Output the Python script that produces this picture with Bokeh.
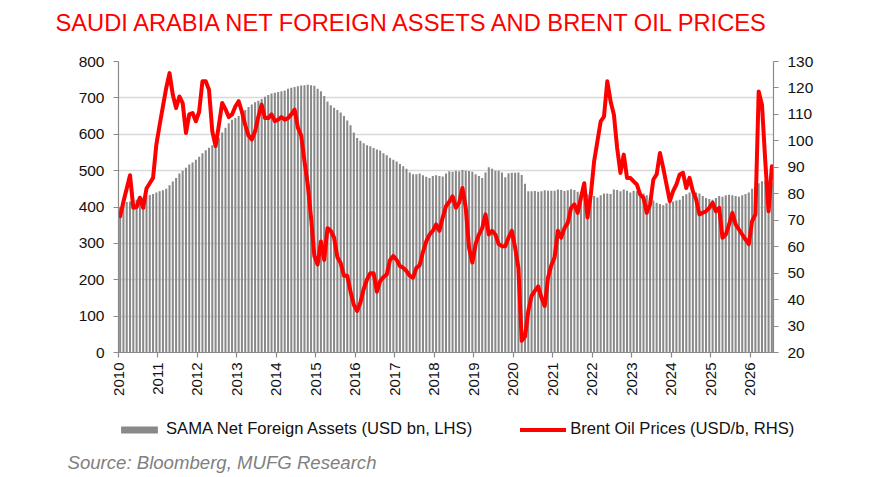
import math
from bokeh.plotting import figure
from bokeh.models import Range1d, LinearAxis, Legend, LegendItem, Title, Label, FixedTicker
from bokeh.embed import file_html
from bokeh.resources import INLINE

# Monthly data, Jan 2010 .. Jul 2026
first_year = 2010
year_ticks = list(range(2010, 2027))
left_ticks = [0, 100, 200, 300, 400, 500, 600, 700, 800]
right_ticks = [20, 30, 40, 50, 60, 70, 80, 90, 100, 110, 120, 130]

# SAMA Net Foreign Assets (USD bn)
nfa = [
    400, 412, 414, 415, 418, 420, 424, 427, 430, 433, 436, 440,   # 2010
    443, 446, 450, 460, 470, 480, 492, 500, 508, 517, 522, 530,   # 2011
    538, 548, 556, 563, 570, 578, 590, 605, 618, 630, 640, 645,   # 2012
    650, 660, 667, 675, 682, 688, 692, 697, 703, 708, 712, 714,   # 2013
    716, 718, 720, 725, 728, 730, 732, 734, 735, 736, 735, 733,   # 2014
    725, 718, 705, 690, 680, 673, 667, 660, 650, 638, 625, 605,   # 2015
    590, 582, 575, 570, 567, 562, 558, 555, 548, 542, 535, 530,   # 2016
    525, 518, 512, 505, 495, 490, 490, 492, 487, 483, 480, 485,   # 2017
    487, 485, 484, 492, 498, 497, 500, 498, 502, 500, 499, 497,   # 2018
    490, 485, 480, 495, 509, 505, 500, 500, 495, 482, 493, 494,   # 2019
    494, 495, 488, 464, 443, 443, 444, 442, 443, 446, 445, 445,   # 2020
    445, 448, 447, 444, 446, 449, 447, 442, 438, 436, 435, 438,   # 2021
    430, 426, 432, 437, 437, 436, 448, 447, 443, 448, 445, 440,   # 2022
    445, 443, 440, 437, 432, 425, 418, 412, 408, 405, 410, 412,   # 2023
    415, 418, 420, 430, 435, 440, 442, 440, 437, 430, 425, 422,   # 2024
    420, 425, 430, 428, 432, 434, 432, 430, 428, 432, 436, 440,   # 2025
    450, 455, 465, 471, 472, 468, 466,                            # 2026
]

# Brent oil price (USD/b)
oil = [
    71.5, 77, 82, 87, 74.7, 75, 78.5, 74.7, 82, 84, 86, 98.6,               # 2010
    106, 113, 120, 125.6, 117.4, 112.4, 116.8, 114.3, 103, 110, 110.5, 107.4,  # 2011
    111, 122.5, 122.5, 119.3, 103.6, 98, 106, 114.3, 112, 109, 110, 113,     # 2012
    115, 111, 106, 102, 100.5, 103.6, 109.2, 113.7, 108.6, 108.6, 110, 107.5,  # 2013
    108, 109, 108, 108.6, 110, 111.8, 105, 102, 92.3, 83.5, 71, 56.5,        # 2014
    53.3, 62, 55, 67, 66, 63.4, 56, 53.8, 49, 49, 43, 38,                    # 2015
    35.7, 38.9, 44, 47.6, 50, 50, 43, 47, 48.5, 49.5, 55, 56.5,              # 2016
    55, 52.7, 52, 50.8, 49, 48.3, 52, 53, 58, 62, 64.6, 66,                  # 2017
    68.4, 66, 71, 75.3, 77, 79, 74.7, 76.6, 82.2, 74.7, 59.6, 54,            # 2018
    61, 64.6, 67, 72.2, 64.6, 66, 64.6, 61, 60.2, 60.2, 63.4, 66,            # 2019
    59.6, 52, 24.4, 26, 35.7, 41.4, 43.3, 45, 40.7, 37.6, 48.3, 53,          # 2020
    56, 66, 63.4, 67, 69, 74.7, 76, 72.8, 78.5, 84, 71, 79.7,                # 2021
    92.3, 99.8, 107.4, 109.2, 122.5, 115, 110, 97.3, 87.9, 94.8, 86, 86,     # 2022
    84.7, 83.5, 79.7, 78.5, 72.8, 76, 85.4, 87.3, 95.4, 89.8, 83.5, 77.2,    # 2023
    81, 83.5, 87.3, 87.9, 82.2, 86, 81, 77.8, 72.2, 72.8, 73.4, 74.7,        # 2024
    76.6, 73.4, 74.7, 63.4, 64.6, 68.4, 72.8, 68.4, 66.5, 64.6, 62.7, 61,    # 2025
    69.7, 72.2, 118.7, 113.7, 92.3, 73.4, 90.4,                              # 2026
]

months = [first_year + (i + 0.5) / 12 for i in range(len(nfa))]

FONT = "Liberation Sans"
BAR_COLOR = "#898989"
LINE_COLOR = "#ff0000"
BAR_W = 0.62 / 12

# ---------------- main chart ----------------
p = figure(width=871, height=402,
           x_range=Range1d(2010, 2010 + len(nfa) / 12),
           y_range=Range1d(0, 800),
           output_backend="svg", toolbar_location=None,
           min_border_left=118, min_border_right=98,
           min_border_top=61, min_border_bottom=50)
p.extra_y_ranges = {"oil": Range1d(20, 130)}
p.outline_line_color = None
p.background_fill_color = "white"
p.border_fill_color = "white"

p.vbar(x=months, top=nfa, bottom=0, width=BAR_W, fill_color=BAR_COLOR, line_color=None)
p.line(months, oil, y_range_name="oil", line_color=LINE_COLOR,
       line_width=4, line_join="round", line_cap="round")

p.xgrid.visible = False
p.ygrid.grid_line_color = "#d9d9d9"
p.ygrid.grid_line_width = 1.3

def style_axis(ax, size):
    ax.axis_line_color = "#8a8a8a"
    ax.major_tick_line_color = "#8a8a8a"
    ax.major_tick_out = 5
    ax.major_tick_in = 0
    ax.minor_tick_line_color = None
    ax.major_label_text_font = FONT
    ax.major_label_text_font_size = size
    ax.major_label_text_color = "#111111"
    ax.axis_line_width = 1.2
    ax.major_tick_line_width = 1.2

p.yaxis.ticker = FixedTicker(ticks=left_ticks)
p.xaxis.ticker = FixedTicker(ticks=year_ticks)
p.xaxis.major_label_orientation = math.pi / 2
p.xaxis.major_label_standoff = 5
p.yaxis.major_label_standoff = 9
style_axis(p.yaxis[0], "15.5px")
style_axis(p.xaxis[0], "15px")

ry = LinearAxis(y_range_name="oil", ticker=FixedTicker(ticks=right_ticks))
style_axis(ry, "15.5px")
ry.major_label_standoff = 9
p.add_layout(ry, "right")

# above: spacer next to the frame, then the title
top_spacer = Title(text=" ", text_font=FONT, text_font_size="10px", standoff=13)
p.add_layout(top_spacer, "above")
title = Title(text="SAUDI ARABIA NET FOREIGN ASSETS AND BRENT OIL PRICES",
              align="left", offset=-63, standoff=0,
              text_font=FONT, text_font_size="23.7px", text_color="#ff0000",
              text_font_style="normal")
p.add_layout(title, "above")

# ---------------- legend + source strip (pixel coordinates) ----------------
q = figure(width=871, height=75, x_range=Range1d(0, 871), y_range=Range1d(0, 75),
           output_backend="svg", toolbar_location=None,
           x_axis_location=None, y_axis_location=None,
           min_border_left=0, min_border_right=0, min_border_top=0, min_border_bottom=0)
q.grid.visible = False
q.outline_line_color = None
q.background_fill_color = "white"
q.border_fill_color = "white"

# same series (they fall outside this strip's ranges); used only for legend swatches
kb = q.vbar(x=months, top=nfa, bottom=0, width=BAR_W, fill_color=BAR_COLOR, line_color=None)
kl = q.line(months, oil, line_color=LINE_COLOR, line_width=4, line_cap="round")

legend = Legend(items=[
    LegendItem(label="SAMA Net Foreign Assets (USD bn, LHS)", renderers=[kb]),
    LegendItem(label="Brent Oil Prices (USD/b, RHS)", renderers=[kl]),
], location=(116, 38), orientation="horizontal",
    glyph_width=46, glyph_height=9, label_height=18, label_standoff=4,
    spacing=48, padding=0, margin=0,
    border_line_alpha=0, background_fill_alpha=0,
    label_text_font=FONT, label_text_font_size="16.6px", label_text_color="#111111")
q.add_layout(legend, "center")

source = Label(x=67, y=15, x_units="screen", y_units="screen",
               text="Source: Bloomberg, MUFG Research",
               text_font=FONT, text_font_size="18.6px", text_font_style="italic",
               text_color="#7f7f7f", text_baseline="middle")
q.add_layout(source)

open("out.html", "w").write(file_html([p, q], INLINE))
